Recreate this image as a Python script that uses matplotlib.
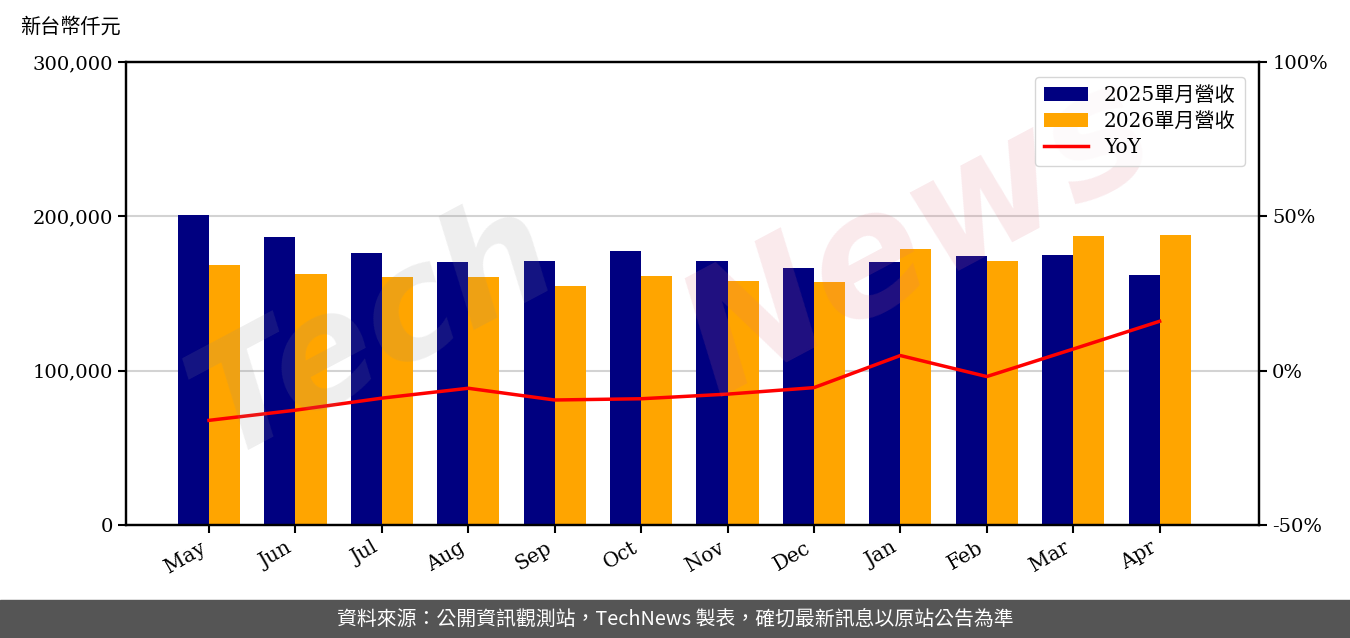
import matplotlib.pyplot as plt
import numpy as np

plt.rcParams['font.family'] = ['DejaVu Serif', 'Noto Sans CJK TC']

months = ['May', 'Jun', 'Jul', 'Aug', 'Sep', 'Oct', 'Nov', 'Dec', 'Jan', 'Feb', 'Mar', 'Apr']
rev_2025 = [200870, 186600, 176440, 170410, 171060, 177540, 171060, 166530, 170410, 174300, 175000, 162000]
rev_2026 = [168470, 162630, 160700, 160700, 154860, 161340, 158100, 157450, 178840, 171060, 187260, 187900]
yoy = [-16.1, -12.8, -8.9, -5.7, -9.5, -9.1, -7.6, -5.5, 4.9, -1.9, 7.0, 16.0]

fig = plt.figure(figsize=(13.5, 6.38), dpi=100)
ax = fig.add_axes([126/1350, 1-525/638, (1259-126)/1350, (525-62)/638])
ax2 = ax.twinx()

x = np.arange(len(months))
w = 0.36
ax.bar(x - w/2, rev_2025, w, color='#000080', label='2025單月營收', zorder=2)
ax.bar(x + w/2, rev_2026, w, color='#FFA500', label='2026單月營收', zorder=2)
ax2.plot(x, yoy, color='red', linewidth=2.5, label='YoY', zorder=3)

ax.set_ylim(0, 300000)
ax.set_yticks([0, 100000, 200000, 300000])
ax.set_yticklabels(['0', '100,000', '200,000', '300,000'])
ax.yaxis.grid(True, color='#d3d3d3', linewidth=1.5, zorder=0)
ax.set_axisbelow(True)
ax.set_xlim(-0.96, 12.15)
ax.set_xticks(x)
ax.set_xticklabels(months, rotation=30, ha='right')

ax2.set_ylim(-50, 100)
ax2.set_yticks([-50, 0, 50, 100])
ax2.set_yticklabels(['-50%', '0%', '50%', '100%'])

for a in (ax, ax2):
    a.tick_params(labelsize=14, width=1.5, length=6, direction='out')
    for s in a.spines.values():
        s.set_linewidth(1.6)
ax.tick_params(axis='x', labelsize=14.5)

fig.text(20/1350, 1-27/638, '新台幣仟元', fontsize=14.5, ha='left', va='center',
         family=['Noto Sans CJK TC', 'DejaVu Sans'])

h1, l1 = ax.get_legend_handles_labels()
h2, l2 = ax2.get_legend_handles_labels()
leg = ax2.legend(h1 + h2, l1 + l2, loc='upper right', fontsize=14.5,
                 frameon=True, edgecolor='#cccccc', fancybox=True,
                 handlelength=2.2, borderpad=0.45, labelspacing=0.35,
                 bbox_to_anchor=(0.9965, 0.99))

# watermark
ax2.text(0.22, 0.42, 'Tech', transform=ax2.transAxes, fontsize=110, fontstyle='italic',
         fontweight='bold', color='#909090', alpha=0.15, rotation=28,
         ha='center', va='center', zorder=5, family='DejaVu Sans')
ax2.text(0.7, 0.62, 'News', transform=ax2.transAxes, fontsize=120, fontstyle='italic',
         fontweight='bold', color='#e07080', alpha=0.15, rotation=28,
         ha='center', va='center', zorder=5, family='DejaVu Sans')

# footer band
fig.patches.append(plt.Rectangle((0, 0), 1, 38/638, transform=fig.transFigure,
                                 color='#555555', zorder=0))
fig.text(0.5, 19/638, '資料來源：公開資訊觀測站，TechNews 製表，確切最新訊息以原站公告為準',
         color='white', fontsize=14.3, ha='center', va='center',
         family=['Noto Sans CJK TC', 'DejaVu Sans'])

fig.savefig('out.png', dpi=100)
